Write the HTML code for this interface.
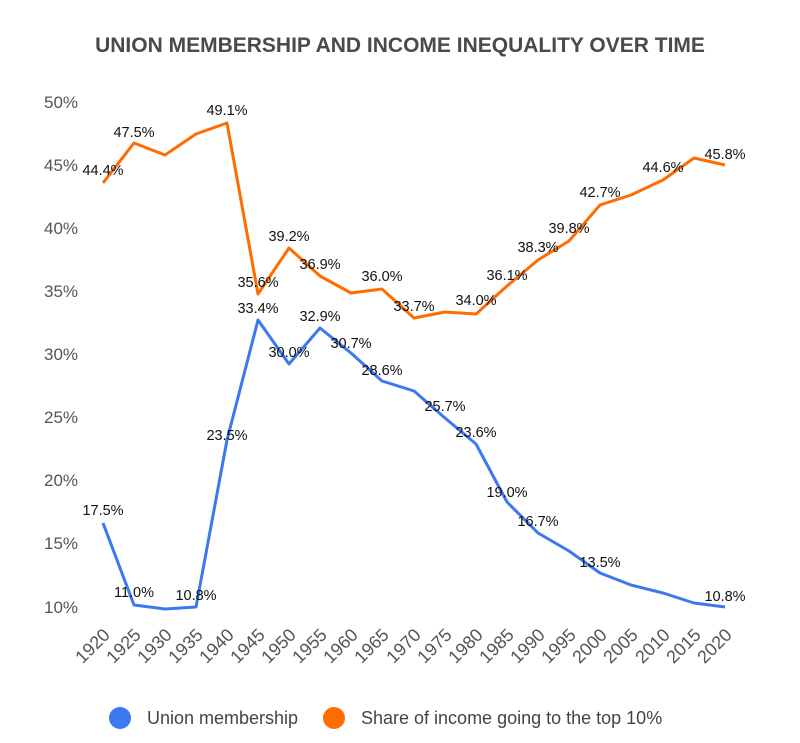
<!DOCTYPE html>
<html><head><meta charset="utf-8"><style>
body{margin:0;background:#fff;}
svg{display:block;font-family:"Liberation Sans",sans-serif;}
.yl{font-size:17px;fill:#555;}
.xl{font-size:18px;fill:#555;}
.dl{font-size:14.5px;fill:#111;text-anchor:middle;}
</style></head><body>
<svg width="800" height="743" viewBox="0 0 800 743">
<rect width="800" height="743" fill="#fff"/>
<text x="400" y="52" text-anchor="middle" font-size="21" font-weight="bold" fill="#4a4a4a">UNION MEMBERSHIP AND INCOME INEQUALITY OVER TIME</text>
<g class="yl">
<text x="44" y="108">50%</text><text x="44" y="171">45%</text><text x="44" y="234">40%</text><text x="44" y="297">35%</text><text x="44" y="360">30%</text><text x="44" y="423">25%</text><text x="44" y="486">20%</text><text x="44" y="549">15%</text><text x="44" y="613">10%</text>
</g>
<g class="xl" text-anchor="end">
<text transform="translate(111,636) rotate(-45)">1920</text>
<text transform="translate(142,636) rotate(-45)">1925</text>
<text transform="translate(173,636) rotate(-45)">1930</text>
<text transform="translate(204,636) rotate(-45)">1935</text>
<text transform="translate(235,636) rotate(-45)">1940</text>
<text transform="translate(266,636) rotate(-45)">1945</text>
<text transform="translate(297,636) rotate(-45)">1950</text>
<text transform="translate(328,636) rotate(-45)">1955</text>
<text transform="translate(359,636) rotate(-45)">1960</text>
<text transform="translate(390,636) rotate(-45)">1965</text>
<text transform="translate(422,636) rotate(-45)">1970</text>
<text transform="translate(453,636) rotate(-45)">1975</text>
<text transform="translate(484,636) rotate(-45)">1980</text>
<text transform="translate(515,636) rotate(-45)">1985</text>
<text transform="translate(546,636) rotate(-45)">1990</text>
<text transform="translate(577,636) rotate(-45)">1995</text>
<text transform="translate(608,636) rotate(-45)">2000</text>
<text transform="translate(639,636) rotate(-45)">2005</text>
<text transform="translate(671,636) rotate(-45)">2010</text>
<text transform="translate(702,636) rotate(-45)">2015</text>
<text transform="translate(733,636) rotate(-45)">2020</text>
</g>
<polyline fill="none" stroke="#ff6d01" stroke-width="3" stroke-linejoin="round" points="103,183 134,143 165,155 196,134 227,123 258,294 289,248 320,276 351,293 382,289 414,318 445,312 476,314 507,286 538,260 569,241 600,205 631,195 663,180 694,158 725,165"/>
<polyline fill="none" stroke="#3c78f0" stroke-width="3" stroke-linejoin="round" points="103,523 134,605 165,609 196,607 227,440 258,320 289,364 320,328 351,353 382,381 414,391 445,418 476,444 507,502 538,533 569,551 600,573 631,585 663,593 694,603 725,607"/>
<g class="dl">
<text x="103" y="175">44.4%</text><text x="134" y="137">47.5%</text><text x="227" y="115">49.1%</text><text x="258" y="287">35.6%</text><text x="289" y="241">39.2%</text><text x="320" y="269">36.9%</text><text x="382" y="281">36.0%</text><text x="414" y="311">33.7%</text><text x="476" y="305">34.0%</text><text x="507" y="280">36.1%</text><text x="538" y="252">38.3%</text><text x="569" y="233">39.8%</text><text x="600" y="197">42.7%</text><text x="663" y="172">44.6%</text><text x="725" y="159">45.8%</text>
<text x="103" y="515">17.5%</text><text x="134" y="597">11.0%</text><text x="196" y="600">10.8%</text><text x="227" y="440">23.5%</text><text x="258" y="313">33.4%</text><text x="289" y="357">30.0%</text><text x="320" y="321">32.9%</text><text x="351" y="348">30.7%</text><text x="382" y="375">28.6%</text><text x="445" y="411">25.7%</text><text x="476" y="437">23.6%</text><text x="507" y="497">19.0%</text><text x="538" y="526">16.7%</text><text x="600" y="567">13.5%</text><text x="725" y="601">10.8%</text>
</g>
<circle cx="120" cy="718" r="11" fill="#3c78f0"/>
<text x="147" y="724" font-size="18" fill="#444">Union membership</text>
<circle cx="334" cy="718" r="11" fill="#ff6d01"/>
<text x="361" y="724" font-size="18" fill="#444">Share of income going to the top 10%</text>
</svg>
</body></html>
